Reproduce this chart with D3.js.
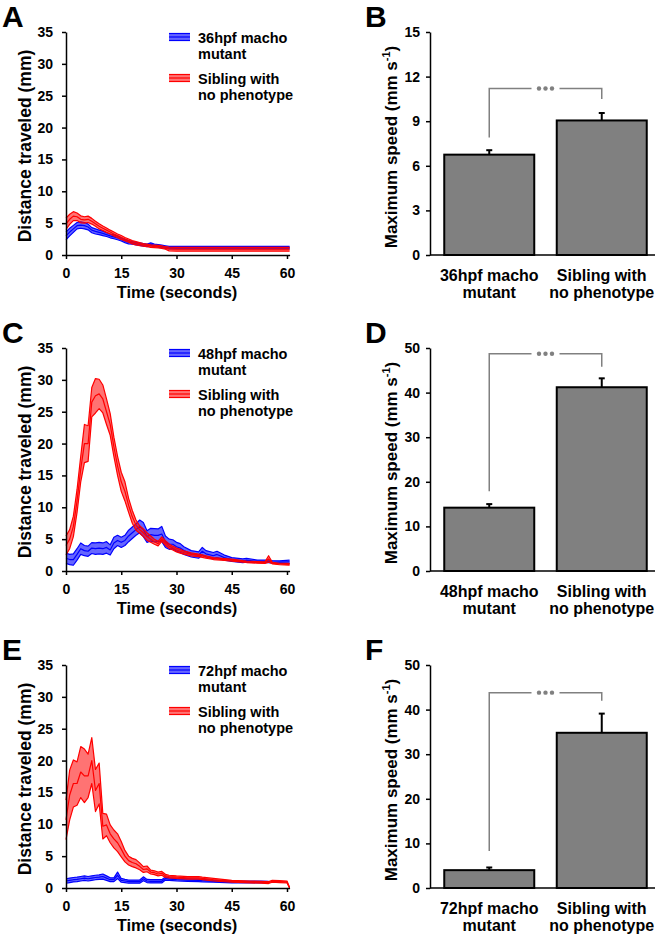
<!DOCTYPE html>
<html>
<head>
<meta charset="utf-8">
<script src="https://cdn.jsdelivr.net/npm/d3@7"></script>
<style>
body{margin:0;background:#fff;}
text{font-family:"Liberation Sans",Arial,sans-serif;font-weight:bold;}
</style>
</head>
<body>
<div id="chart"></div>
<script>
//Data - panel A (36hpf)
var timeA = [0,1,2,3,4,5,6,7,8,9,10,11,12,13,14,15,16,17,18,19,20,21,22,23,24,25,26,27,28,30,35,40,45,50,55,60.7];
var mutantMeanA = [3.0,3.6,4.1,4.6,4.7,4.6,4.4,3.9,3.7,3.55,3.4,3.2,3.0,2.85,2.7,2.45,2.2,2.0,1.9,1.8,1.7,1.6,1.5,1.7,1.5,1.45,1.35,1.25,1.15,1.15,1.15,1.15,1.15,1.15,1.15,1.15];
var mutantSemA = [0.6,0.6,0.55,0.5,0.5,0.5,0.45,0.4,0.4,0.35,0.35,0.3,0.3,0.3,0.3,0.25,0.25,0.25,0.2,0.2,0.2,0.2,0.2,0.2,0.2,0.2,0.2,0.2,0.2,0.2,0.2,0.2,0.2,0.2,0.2,0.2];
var siblingMeanA = [4.9,5.6,6.1,6.0,5.6,5.5,5.6,5.3,4.9,4.5,4.2,3.9,3.6,3.3,3.0,2.75,2.5,2.25,2.0,1.85,1.7,1.6,1.5,1.4,1.35,1.3,1.25,1.1,0.95,0.9,0.9,0.9,0.9,0.9,0.9,0.9];
var siblingSemA = [0.9,0.8,0.7,0.6,0.55,0.5,0.5,0.45,0.4,0.4,0.35,0.35,0.3,0.3,0.3,0.3,0.25,0.25,0.25,0.25,0.25,0.2,0.2,0.2,0.2,0.2,0.2,0.2,0.3,0.3,0.3,0.3,0.3,0.3,0.3,0.3];

//Data - panel C (48hpf)
var timeC = [0,1,2,3,4,5,6,7,8,9,10,11,12,13,14,15,16,17,18,19,20,21,22,23,24,25,26,27,28,29,30,31,32,34,36,37,38,40,41,43,45,48,49,52,54,55,56,58,60.7];
var mutantMeanC = [2.0,1.8,1.8,2.6,3.5,3.2,3.1,3.6,3.5,3.6,3.5,3.7,3.3,4.4,4.8,4.5,4.8,5.5,6.0,6.5,7.0,6.5,5.4,5.7,5.6,5.6,5.8,4.6,4.2,4.2,3.8,3.6,3.2,2.7,2.5,3.1,2.7,2.4,2.6,2.1,1.8,1.6,1.7,1.5,1.5,1.5,1.45,1.4,1.45];
var mutantSemC = [0.8,0.8,0.9,0.9,0.9,0.8,0.8,0.85,0.9,0.9,0.9,0.9,0.8,0.9,0.8,0.8,0.8,0.9,0.9,0.9,1.0,1.1,0.9,1.0,1.05,1.0,1.2,0.9,0.8,0.7,0.7,0.7,0.6,0.5,0.5,0.6,0.5,0.5,0.5,0.4,0.3,0.3,0.3,0.2,0.2,0.2,0.2,0.2,0.25];
var siblingMeanC = [4.0,5.0,7.0,11.0,16.0,20.0,20.0,26.5,27.5,27.8,27.0,25.0,23.0,19.5,16.5,14.0,12.5,10.3,8.5,7.2,6.5,6.0,5.4,5.0,4.6,4.3,5.0,4.4,3.9,3.6,3.3,3.1,2.9,2.6,2.45,2.35,2.2,1.95,1.9,1.8,1.7,1.5,1.45,1.35,1.3,1.9,1.25,1.1,1.05];
var siblingSemC = [1.5,1.5,1.6,1.8,2.0,3.0,2.8,2.3,2.7,2.3,2.2,2.0,1.7,1.5,1.5,1.5,1.5,1.1,1.0,0.8,0.6,0.6,0.6,0.5,0.4,0.35,0.35,0.35,0.35,0.3,0.3,0.3,0.25,0.25,0.2,0.2,0.2,0.15,0.15,0.15,0.15,0.12,0.12,0.12,0.12,0.5,0.12,0.12,0.15];

//Data - panel E (72hpf)
var mutantTimeE = [0,1,2,3,4,5,6,7,8,9,10,11,12,13,14,15,16,17,18,19,20,21,22,23,24,25,26,27,28,29,30,33,36,37,40,45,50,53,55];
var mutantMeanE = [1.1,1.2,1.3,1.35,1.45,1.55,1.45,1.55,1.65,1.7,1.8,1.55,1.3,1.3,2.0,1.2,1.1,1.0,1.0,1.0,1.0,1.45,1.1,1.05,1.05,1.05,1.05,1.5,1.4,1.35,1.3,1.25,1.2,1.15,1.05,0.95,0.95,0.95,0.9];
var mutantSemE = [0.35,0.35,0.35,0.35,0.35,0.35,0.35,0.35,0.35,0.35,0.4,0.35,0.3,0.3,0.5,0.3,0.25,0.25,0.25,0.25,0.25,0.3,0.25,0.25,0.25,0.25,0.25,0.25,0.2,0.2,0.2,0.2,0.2,0.2,0.15,0.15,0.15,0.15,0.15];
var siblingTimeE = [0,1,2,3,4,5,6,7,8,9,10,11,12,13,14,15,16,17,18,19,20,21,22,23,24,25,26,27,28,29,30,33,36,37,40,45,50,53,55,56,58,60,60.7];
var siblingMeanE = [10.7,14.6,16.4,16.4,18.2,17.6,17.6,20.0,15.3,16.4,9.7,9.9,8.5,7.7,7.1,6.1,5.0,4.3,4.0,3.8,3.4,2.9,3.0,2.5,2.4,2.2,2.3,1.9,1.8,1.75,1.7,1.6,1.6,1.5,1.3,1.05,0.95,0.9,0.85,1.05,1.0,0.95,0.05];
var siblingSemE = [3.1,3.9,3.7,3.4,4.0,4.2,3.4,3.6,3.3,3.2,2.0,1.7,1.4,1.4,1.4,1.2,0.9,0.7,0.65,0.65,0.55,0.45,0.45,0.3,0.3,0.3,0.3,0.25,0.2,0.2,0.2,0.2,0.2,0.2,0.2,0.15,0.15,0.15,0.15,0.15,0.15,0.15,0.05];

var legendNames = ["36hpf macho", "48hpf macho", "72hpf macho"];

//Data - bar panels (maximum speed)
var barLabels = [["36hpf macho","mutant"],["48hpf macho","mutant"],["72hpf macho","mutant"]];
var siblingLabel = ["Sibling with","no phenotype"];
var speedB = [6.75, 9.05];
var speedSemB = [0.3, 0.5];
var speedD = [14.2, 41.2];
var speedSemD = [0.8, 2.0];
var speedF = [4.0, 34.8];
var speedSemF = [0.6, 4.3];
var yMaxBar = [15, 50, 50];
var yStepBar = [3, 10, 10];
// bracket: [top, left foot, right foot]
var bracketB = [11.2, 7.9, 10.5];
var bracketD = [48.7, 17.9, 45.8];
var bracketF = [43.8, 8.3, 42.0];

//Layout
var width = 659;
var height = 939;
var rowOffset = [0, 316, 633];
var plotTop = 32;
var plotBottom = 255;

var blue = "#0000ff";
var red = "#ff0000";

var svgContainer = d3.select("#chart")
    .append("svg")
    .attr("width", width)
    .attr("height", height);

var lineX = d3.scaleLinear().domain([0, 60.7]).range([66, 66 + 221 / 60 * 60.7]);
var lineY = d3.scaleLinear().domain([0, 35]).range([plotBottom, plotTop]);

function styleAxis(ax, size) {
    ax.select(".domain").attr("stroke", "black").attr("stroke-width", 1.5);
    ax.selectAll(".tick line").attr("stroke", "black").attr("stroke-width", 1.5);
    ax.selectAll(".tick text")
        .style("font-size", size + "px")
        .style("font-weight", "bold")
        .style("font-family", '"Liberation Sans", Arial, sans-serif')
        .attr("fill", "black");
}

function drawLinePanel(row, letter, series, legendName) {
    var g = svgContainer.append("g")
        .attr("transform", "translate(0," + rowOffset[row] + ")");

    series.forEach(function (s) {
        var pts = s.time.map(function (t, i) {
            return {t: t, m: s.mean[i], e: s.sem[i]};
        });
        var area = d3.area()
            .x(function (d) { return lineX(d.t); })
            .y0(function (d) { return lineY(Math.max(0, d.m - d.e)); })
            .y1(function (d) { return lineY(d.m + d.e); });
        g.append("path").datum(pts)
            .attr("d", area)
            .attr("fill", s.color)
            .attr("fill-opacity", s.opacity);
        [-1, 0, 1].forEach(function (k) {
            var line = d3.line()
                .x(function (d) { return lineX(d.t); })
                .y(function (d) { return lineY(Math.max(0, d.m + k * d.e)); });
            g.append("path").datum(pts)
                .attr("d", line)
                .attr("fill", "none")
                .attr("stroke", s.color)
                .attr("stroke-width", 1.2)
                .attr("stroke-linejoin", "round");
        });
    });

    var xAx = g.append("g")
        .attr("transform", "translate(0," + plotBottom + ")")
        .call(d3.axisBottom(lineX).tickValues([0, 15, 30, 45, 60]).tickSize(4).tickSizeOuter(0).tickPadding(9));
    styleAxis(xAx, 14);

    var yAx = g.append("g")
        .attr("transform", "translate(66,0)")
        .call(d3.axisLeft(lineY).tickValues(d3.range(0, 36, 5)).tickSize(4).tickSizeOuter(0).tickPadding(9));
    styleAxis(yAx, 14);

    g.append("text")
        .text("Time (seconds)")
        .attr("x", 177)
        .attr("y", 298)
        .attr("text-anchor", "middle")
        .style("font-size", "16.5px");

    g.append("text")
        .text("Distance traveled (mm)")
        .attr("transform", "translate(31,146) rotate(-90)")
        .attr("text-anchor", "middle")
        .style("font-size", "17.5px");

    // legend
    var legendRows = [
        {color: blue, opacity: 0.6, y: 37, lines: [legendName, "mutant"]},
        {color: red, opacity: 0.55, y: 78, lines: ["Sibling with", "no phenotype"]}
    ];
    legendRows.forEach(function (L) {
        g.append("rect")
            .attr("x", 169).attr("y", L.y - 3.5)
            .attr("width", 21).attr("height", 7)
            .attr("fill", L.color).attr("fill-opacity", L.opacity);
        [-3.5, 0, 3.5].forEach(function (dy) {
            g.append("line")
                .attr("x1", 169).attr("x2", 190)
                .attr("y1", L.y + dy).attr("y2", L.y + dy)
                .attr("stroke", L.color).attr("stroke-width", 1.2);
        });
        g.append("text")
            .attr("x", 198).attr("y", L.y + 6)
            .style("font-size", "14.5px")
            .text(L.lines[0]);
        g.append("text")
            .attr("x", 198).attr("y", L.y + 22)
            .style("font-size", "14.5px")
            .text(L.lines[1]);
    });

    g.append("text")
        .text(letter)
        .attr("x", 2)
        .attr("y", 27)
        .style("font-size", "30px");
}

function drawBarPanel(row, letter, labels, vals, errs, yMax, yStep, bracket) {
    var g = svgContainer.append("g")
        .attr("transform", "translate(0," + rowOffset[row] + ")");

    var cats = labels.map(function (l) { return l.join(" "); });
    var x = d3.scaleBand().domain(cats).range([433, 658]).paddingInner(0.2).paddingOuter(0.1);
    var y = d3.scaleLinear().domain([0, yMax]).range([plotBottom, plotTop]);

    // error bars (up only)
    cats.forEach(function (c, i) {
        var cx = x(c) + x.bandwidth() / 2;
        g.append("line")
            .attr("x1", cx).attr("x2", cx)
            .attr("y1", y(vals[i])).attr("y2", y(vals[i] + errs[i]))
            .attr("stroke", "black").attr("stroke-width", 2);
        g.append("line")
            .attr("x1", cx - 3).attr("x2", cx + 3)
            .attr("y1", y(vals[i] + errs[i])).attr("y2", y(vals[i] + errs[i]))
            .attr("stroke", "black").attr("stroke-width", 2);
    });

    g.selectAll(".bar")
        .data(vals)
        .enter()
        .append("rect")
        .attr("class", "bar")
        .attr("x", function (d, i) { return x(cats[i]); })
        .attr("y", function (d) { return y(d); })
        .attr("width", x.bandwidth())
        .attr("height", function (d) { return plotBottom - y(d); })
        .attr("fill", "#808080")
        .attr("stroke", "black")
        .attr("stroke-width", 2);

    // significance bracket
    var c1 = x(cats[0]) + x.bandwidth() / 2;
    var c2 = x(cats[1]) + x.bandwidth() / 2;
    var mid = (c1 + c2) / 2;
    var top = y(bracket[0]);
    g.append("path")
        .attr("d", "M" + c1 + "," + y(bracket[1]) + "V" + top + "H" + (mid - 14) +
            "M" + (mid + 14) + "," + top + "H" + c2 + "V" + y(bracket[2]))
        .attr("fill", "none")
        .attr("stroke", "#808080")
        .attr("stroke-width", 1.5);
    [-6.5, 0, 6.5].forEach(function (dx) {
        g.append("circle")
            .attr("cx", mid + dx).attr("cy", top)
            .attr("r", 2.2)
            .attr("fill", "#808080");
    });

    // axes
    var yAx = g.append("g")
        .attr("transform", "translate(430,0)")
        .call(d3.axisLeft(y).tickValues(d3.range(0, yMax + 0.1, yStep)).tickSize(4).tickSizeOuter(0).tickPadding(6));
    styleAxis(yAx, 14);
    g.append("line")
        .attr("x1", 430).attr("x2", 655)
        .attr("y1", plotBottom).attr("y2", plotBottom)
        .attr("stroke", "black").attr("stroke-width", 1.5);

    labels.forEach(function (l, i) {
        var t = g.append("text")
            .attr("text-anchor", "middle")
            .style("font-size", "16px");
        t.append("tspan").attr("x", x(cats[i]) + x.bandwidth() / 2).attr("y", 281).text(l[0]);
        t.append("tspan").attr("x", x(cats[i]) + x.bandwidth() / 2).attr("y", 298).text(l[1]);
    });

    var yl = g.append("text")
        .attr("transform", "translate(397,147) rotate(-90)")
        .attr("text-anchor", "middle")
        .style("font-size", "17px");
    yl.append("tspan").text("Maximum speed (mm s");
    yl.append("tspan").attr("dy", -7).style("font-size", "11px").text("-1");
    yl.append("tspan").attr("dy", 7).text(")");

    g.append("text")
        .text(letter)
        .attr("x", 365)
        .attr("y", 27)
        .style("font-size", "30px");
}

drawLinePanel(0, "A", [
    {time: timeA, mean: mutantMeanA, sem: mutantSemA, color: blue, opacity: 0.6},
    {time: timeA, mean: siblingMeanA, sem: siblingSemA, color: red, opacity: 0.55}
], legendNames[0]);
drawLinePanel(1, "C", [
    {time: timeC, mean: mutantMeanC, sem: mutantSemC, color: blue, opacity: 0.6},
    {time: timeC, mean: siblingMeanC, sem: siblingSemC, color: red, opacity: 0.55}
], legendNames[1]);
drawLinePanel(2, "E", [
    {time: mutantTimeE, mean: mutantMeanE, sem: mutantSemE, color: blue, opacity: 0.6},
    {time: siblingTimeE, mean: siblingMeanE, sem: siblingSemE, color: red, opacity: 0.55}
], legendNames[2]);

drawBarPanel(0, "B", [barLabels[0], siblingLabel], speedB, speedSemB, yMaxBar[0], yStepBar[0], bracketB);
drawBarPanel(1, "D", [barLabels[1], siblingLabel], speedD, speedSemD, yMaxBar[1], yStepBar[1], bracketD);
drawBarPanel(2, "F", [barLabels[2], siblingLabel], speedF, speedSemF, yMaxBar[2], yStepBar[2], bracketF);
</script>
</body>
</html>
